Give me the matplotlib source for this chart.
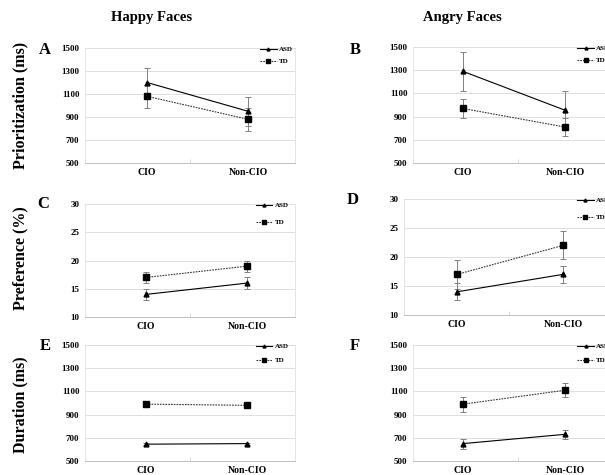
import matplotlib
matplotlib.use("Agg")
import matplotlib.pyplot as plt
from matplotlib.ticker import FixedLocator

plt.rcParams["font.family"] = ["Liberation Serif", "DejaVu Serif"]
plt.rcParams["font.weight"] = "bold"

# ---- data ----
categories = ["CIO", "Non-CIO"]
groups = ["ASD", "TD"]

happy_prior_asd = [1200, 950]
happy_prior_asd_err = [130, 125]
happy_prior_td = [1080, 880]
happy_prior_td_err = [100, 100]

angry_prior_asd = [1290, 955]
angry_prior_asd_err = [165, 165]
angry_prior_td = [970, 810]
angry_prior_td_err = [78, 78]

happy_pref_asd = [14, 16]
happy_pref_asd_err = [1, 1]
happy_pref_td = [17, 19]
happy_pref_td_err = [1, 1]

angry_pref_asd = [14, 17]
angry_pref_asd_err = [1.5, 1.5]
angry_pref_td = [17, 22]
angry_pref_td_err = [2.5, 2.4]

happy_dur_asd = [645, 650]
happy_dur_asd_err = [8, 8]
happy_dur_td = [990, 980]
happy_dur_td_err = [10, 10]

angry_dur_asd = [650, 730]
angry_dur_asd_err = [43, 40]
angry_dur_td = [990, 1110]
angry_dur_td_err = [65, 60]

ms_ticks = [500, 700, 900, 1100, 1300, 1500]
pct_ticks = [10, 15, 20, 25, 30]

W, H = 605, 475
fig = plt.figure(figsize=(W / 100, H / 100), dpi=100)


def px_rect(left, top, right, bottom):
    return [left / W, 1 - bottom / H, (right - left) / W, (bottom - top) / H]


def panel(rect, x_pix, letter, letter_xy, asd, asd_err, td, td_err, yticks, leg_x, leg_space):
    l, t, r, b = rect
    ax = fig.add_axes(px_rect(l, t, r, b))
    # pick xlim so category points land at the measured pixel columns
    step = x_pix[1] - x_pix[0]
    x0 = (l - x_pix[0]) / step
    x1 = (r - x_pix[0]) / step
    ax.set_xlim(x0, x1)
    ax.set_ylim(yticks[0], yticks[-1])

    xs = list(range(len(categories)))
    ax.errorbar(xs, asd, yerr=asd_err, color="black", lw=0.8, marker="^", ms=3.5,
                ecolor="#808080", elinewidth=0.7, capsize=2, capthick=0.7, label=groups[0], zorder=3)
    ax.errorbar(xs, td, yerr=td_err, color="#333333", lw=0.8, ls=(0, (1.5, 1)), marker="s",
                ms=4.5, mfc="black", mec="black", ecolor="#808080", elinewidth=0.7,
                capsize=2, capthick=0.7, label=groups[1], zorder=3)

    ax.set_yticks(yticks)
    ax.set_yticklabels([str(v) for v in yticks], fontsize=6.5, fontweight="bold")
    ax.tick_params(axis="y", length=0, pad=4)
    ax.set_xticks(xs)
    ax.set_xticklabels(categories, fontsize=7, fontweight="bold")
    ax.tick_params(axis="x", which="major", length=0, pad=3.5)
    ax.xaxis.set_minor_locator(FixedLocator([(x0 + x1) / 2]))
    ax.tick_params(axis="x", which="minor", length=3, direction="in", color="#d0d0d0", width=0.6)

    ax.grid(axis="y", color="#d9d9d9", lw=0.6)
    ax.set_axisbelow(True)
    for side in ["top", "right", "left"]:
        ax.spines[side].set_color("#e0e0e0")
        ax.spines[side].set_linewidth(0.6)
    ax.spines["bottom"].set_color("#bfbfbf")
    ax.spines["bottom"].set_linewidth(0.7)

    handles, labels = ax.get_legend_handles_labels()
    handles = [h[0] for h in handles]
    ax.legend(handles, labels, loc="upper left", bbox_to_anchor=(leg_x, 1.04), frameon=False,
              handlelength=2.4, handletextpad=0.3, labelspacing=leg_space, markerscale=0.6,
              borderaxespad=0, prop={"weight": "bold", "size": 5})

    fig.text(letter_xy[0] / W, 1 - letter_xy[1] / H, letter, fontsize=12, fontweight="bold",
             ha="center", va="center")
    return ax


panel((85, 48, 295, 163), (147, 248), "A", (45, 50),
      happy_prior_asd, happy_prior_asd_err, happy_prior_td, happy_prior_td_err, ms_ticks, 0.82, 0.9)
panel((413, 47, 623, 163), (463, 565), "B", (355, 50),
      angry_prior_asd, angry_prior_asd_err, angry_prior_td, angry_prior_td_err, ms_ticks, 0.77, 0.9)
panel((85, 204, 295, 317), (146, 247), "C", (43, 204),
      happy_pref_asd, happy_pref_asd_err, happy_pref_td, happy_pref_td_err, pct_ticks, 0.8, 1.6)
panel((404, 199, 614, 315), (457, 563), "D", (353, 200),
      angry_pref_asd, angry_pref_asd_err, angry_pref_td, angry_pref_td_err, pct_ticks, 0.81, 1.6)
panel((85, 345, 295, 461), (146, 247), "E", (45, 346),
      happy_dur_asd, happy_dur_asd_err, happy_dur_td, happy_dur_td_err, ms_ticks, 0.8, 1.2)
panel((413, 345, 623, 461), (463, 565), "F", (355, 346),
      angry_dur_asd, angry_dur_asd_err, angry_dur_td, angry_dur_td_err, ms_ticks, 0.77, 1.2)

fig.text(152 / W, 1 - 18 / H, "Happy Faces", fontsize=10.5, fontweight="bold", ha="center", va="center")
fig.text(462 / W, 1 - 18 / H, "Angry Faces", fontsize=10.5, fontweight="bold", ha="center", va="center")

fig.text(20 / W, 1 - 105 / H, "Prioritization (ms)", fontsize=11.5, fontweight="bold",
         rotation=90, ha="center", va="center")
fig.text(20 / W, 1 - 258 / H, "Preference (%)", fontsize=11.5, fontweight="bold",
         rotation=90, ha="center", va="center")
fig.text(20 / W, 1 - 405 / H, "Duration (ms)", fontsize=11.5, fontweight="bold",
         rotation=90, ha="center", va="center")

fig.savefig("out.png", dpi=100)
